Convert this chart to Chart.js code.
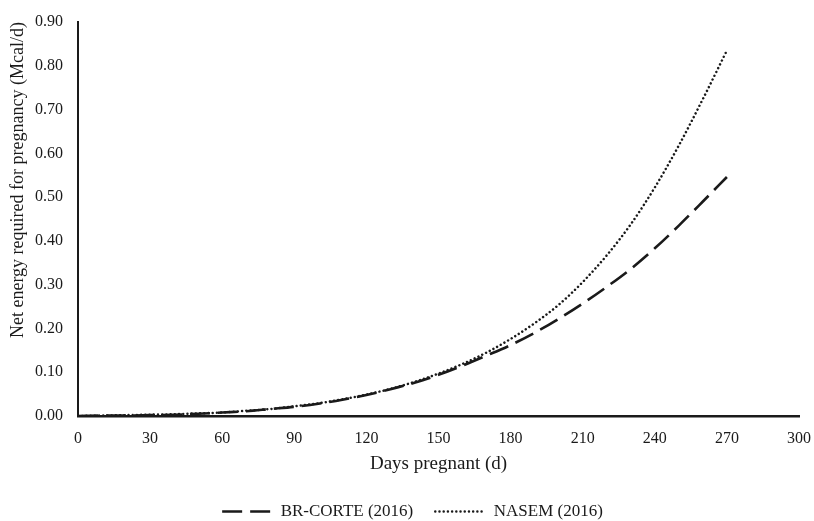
<!DOCTYPE html>
<html>
<head>
<meta charset="utf-8">
<script src="https://cdn.jsdelivr.net/npm/chart.js@4.4.1/dist/chart.umd.min.js"></script>
<style>
html,body{margin:0;padding:0;background:#fff;}
#wrap{width:814px;height:521px;position:relative;}
</style>
</head>
<body>
<div id="wrap"><canvas id="c"></canvas></div>
<script>
const days = [0,10,20,30,40,50,60,70,80,90,100,110,120,130,140,150,160,170,180,190,200,210,220,230,240,250,260,270];
const brCorte = [0.000,0.001,0.001,0.002,0.003,0.005,0.008,0.011,0.016,0.021,0.028,0.037,0.048,0.061,0.076,0.094,0.115,0.138,0.162,0.190,0.222,0.257,0.295,0.336,0.383,0.435,0.490,0.546];
const nasem = [0.000,0.001,0.002,0.003,0.004,0.006,0.008,0.012,0.016,0.022,0.029,0.038,0.049,0.062,0.078,0.097,0.119,0.145,0.176,0.212,0.254,0.306,0.367,0.438,0.522,0.618,0.724,0.835];
const seriesNames = ['BR-CORTE (2016)','NASEM (2016)'];
const xTitle = 'Days pregnant (d)';
const yTitle = 'Net energy required for pregnancy (Mcal/d)';

const font = 'Liberation Serif';
const ink = '#1a1a1a';

new Chart(document.getElementById('c'), {
  type: 'line',
  data: {
    datasets: [
      {
        label: seriesNames[0],
        data: days.map((d,i)=>({x:d,y:brCorte[i]})),
        borderColor: ink,
        backgroundColor: ink,
        borderWidth: 2.6,
        borderDash: [20, 8],
        borderCapStyle: 'butt',
        pointRadius: 0,
        cubicInterpolationMode: 'monotone',
        fill: false
      },
      {
        label: seriesNames[1],
        data: days.map((d,i)=>({x:d,y:nasem[i]})),
        borderColor: ink,
        backgroundColor: ink,
        borderWidth: 2.5,
        borderDash: [0.01, 4.2],
        borderCapStyle: 'round',
        pointRadius: 0,
        cubicInterpolationMode: 'monotone',
        fill: false
      }
    ]
  },
  options: {
    responsive: true,
    maintainAspectRatio: false,
    animation: false,
    layout: { padding: { top: 22, right: 9, left: 20, bottom: -9 } },
    plugins: {
      tooltip: { enabled: false },
      legend: {
        position: 'bottom',
        labels: {
          usePointStyle: true,
          pointStyle: 'line',
          pointStyleWidth: 50,
          color: ink,
          font: { family: font, size: 17 },
          padding: 22,
          generateLabels: (chart) => {
            const items = Chart.defaults.plugins.legend.labels.generateLabels(chart);
            items.forEach((it, i) => {
              const ds = chart.data.datasets[i];
              it.lineDash = ds.borderDash;
              it.lineWidth = ds.borderWidth;
              it.lineCap = ds.borderCapStyle;
              it.strokeStyle = ds.borderColor;
            });
            return items;
          }
        }
      }
    },
    scales: {
      x: {
        type: 'linear',
        min: 0, max: 300,
        grid: { display: false, tickLength: 10 },
        border: { display: true, color: ink, width: 2.5 },
        ticks: { stepSize: 30, color: ink, font: { family: font, size: 16 }, padding: 3, maxRotation: 0 },
        title: { display: true, text: xTitle, color: ink, font: { family: font, size: 19 }, padding: { top: 1, bottom: 6 } }
      },
      y: {
        type: 'linear',
        min: 0, max: 0.9,
        grid: { display: false, tickLength: 13 },
        border: { display: true, color: ink, width: 2 },
        ticks: { stepSize: 0.1, color: ink, font: { family: font, size: 16 }, padding: 2,
          callback: v => Number(v).toFixed(2) },
        title: { display: true, text: yTitle, align: 'end', color: ink, font: { family: font, size: 18 }, padding: { top: -13, bottom: 4.4 } }
      }
    }
  }
});
</script>
</body>
</html>
